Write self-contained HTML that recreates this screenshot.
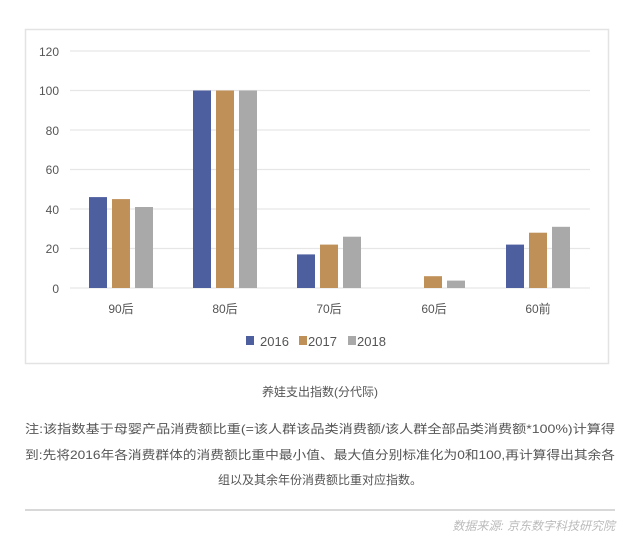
<!DOCTYPE html>
<html><head><meta charset="utf-8"><style>
body{margin:0;width:640px;height:547px;background:#fff;font-family:"Liberation Sans","Noto Sans CJK SC",sans-serif;overflow:hidden}
</style></head><body>
<svg width="640" height="547" xmlns="http://www.w3.org/2000/svg" style="position:absolute;left:0;top:0">
<rect x="25.5" y="29.5" width="583" height="334" fill="#fff" stroke="#e3e3e3" stroke-width="1.5"/>
<g stroke="#e6e6e6" stroke-width="1.2">
<line x1="70" x2="590" y1="51" y2="51"/><line x1="70" x2="590" y1="90.5" y2="90.5"/>
<line x1="70" x2="590" y1="130" y2="130"/><line x1="70" x2="590" y1="169.5" y2="169.5"/>
<line x1="70" x2="590" y1="209" y2="209"/><line x1="70" x2="590" y1="248.5" y2="248.5"/>
<line x1="70" x2="590" y1="288" y2="288"/>
</g>
<g font-size="12" fill="#555" text-anchor="end">
<text x="59" y="56">120</text><text x="59" y="95">100</text><text x="59" y="135">80</text>
<text x="59" y="174">60</text><text x="59" y="214">40</text><text x="59" y="253">20</text><text x="59" y="293">0</text>
</g>
<g>
<rect x="89" y="197.1" width="18" height="90.9" fill="#4e5fa0"/><rect x="112" y="199.1" width="18" height="88.9" fill="#bf9058"/><rect x="135" y="207" width="18" height="81" fill="#a9a9a9"/>
<rect x="193" y="90.5" width="18" height="197.5" fill="#4e5fa0"/><rect x="216" y="90.5" width="18" height="197.5" fill="#bf9058"/><rect x="239" y="90.5" width="18" height="197.5" fill="#a9a9a9"/>
<rect x="297" y="254.4" width="18" height="33.6" fill="#4e5fa0"/><rect x="320" y="244.6" width="18" height="43.4" fill="#bf9058"/><rect x="343" y="236.7" width="18" height="51.3" fill="#a9a9a9"/>
<rect x="424" y="276.2" width="18" height="11.8" fill="#bf9058"/><rect x="447" y="280.6" width="18" height="7.4" fill="#a9a9a9"/>
<rect x="506" y="244.6" width="18" height="43.4" fill="#4e5fa0"/><rect x="529" y="232.7" width="18" height="55.3" fill="#bf9058"/><rect x="552" y="226.8" width="18" height="61.2" fill="#a9a9a9"/>
</g>
<g font-size="12" fill="#555" text-anchor="middle">
<text x="121" y="313">90后</text><text x="225" y="313">80后</text><text x="329" y="313">70后</text><text x="434" y="313">60后</text><text x="538" y="313">60前</text>
</g>
<g font-size="13" fill="#555">
<rect x="246" y="336" width="8" height="9" fill="#4e5fa0"/><text x="260" y="346">2016</text>
<rect x="299" y="336" width="8" height="9" fill="#bf9058"/><text x="308" y="346">2017</text>
<rect x="348" y="336" width="8" height="9" fill="#a9a9a9"/><text x="357" y="346">2018</text>
</g>
<text x="320" y="396" font-size="12" fill="#555" text-anchor="middle">养娃支出指数(分代际)</text>
<g font-size="12" fill="#555">
<text x="25" y="433" textLength="590" lengthAdjust="spacingAndGlyphs">注:该指数基于母婴产品消费额比重(=该人群该品类消费额/该人群全部品类消费额*100%)计算得</text>
<text x="25" y="459" textLength="590" lengthAdjust="spacingAndGlyphs">到:先将2016年各消费群体的消费额比重中最小值、最大值分别标准化为0和100,再计算得出其余各</text>
<text x="320" y="484" text-anchor="middle">组以及其余年份消费额比重对应指数。</text>
</g>
<line x1="25" x2="615" y1="510" y2="510" stroke="#ccc" stroke-width="1.5"/>
<text x="615" y="530" font-size="12" fill="#bbb" text-anchor="end" font-style="italic">数据来源: 京东数字科技研究院</text>
</svg>
</body></html>
